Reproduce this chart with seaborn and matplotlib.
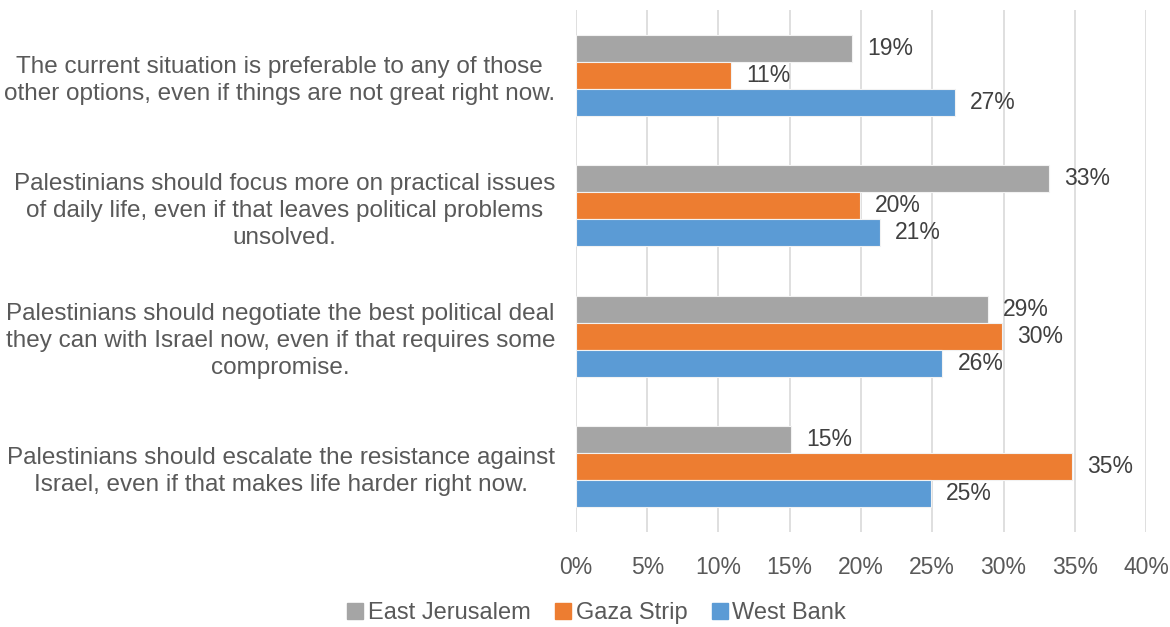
import numpy as np
import pandas as pd
import matplotlib
matplotlib.use('Agg')
import matplotlib.pyplot as plt
import seaborn as sns
from matplotlib.lines import Line2D

# data (shares, %)
statements = [
    'The current situation is preferable to any of those\nother options, even if things are not great right now.',
    'Palestinians should focus more on practical issues\nof daily life, even if that leaves political problems\nunsolved.',
    'Palestinians should negotiate the best political deal\nthey can with Israel now, even if that requires some\ncompromise.',
    'Palestinians should escalate the resistance against\nIsrael, even if that makes life harder right now.',
]
regions = ['East Jerusalem', 'Gaza Strip', 'West Bank']
east_jerusalem = [19.4, 33.2, 28.9, 15.1]
gaza_strip     = [10.9, 19.9, 29.9, 34.8]
west_bank      = [26.6, 21.3, 25.7, 24.9]
x_ticks = [0, 5, 10, 15, 20, 25, 30, 35, 40]

COLORS = ['#A5A5A5', '#ED7D31', '#5B9BD5']
TEXT   = '#595959'

df = pd.DataFrame({
    'statement': statements * 3,
    'region': np.repeat(regions, len(statements)),
    'share': east_jerusalem + gaza_strip + west_bank,
})

sns.set_theme(style='white')
plt.rcParams['font.family'] = ['Liberation Sans', 'DejaVu Sans']

fig = plt.figure(figsize=(11.7, 6.27), dpi=100)
ax = fig.add_axes([0.4923, 0.1515, 0.4872, 0.8325])

sns.barplot(data=df, y='statement', x='share', hue='region', order=statements,
            hue_order=regions, palette=COLORS, saturation=1, orient='h',
            width=0.62, edgecolor='#F2F2F2', linewidth=0.8, ax=ax, legend=False)

for cont in ax.containers:
    labels = ['{:.0f}%'.format(b.get_width()) for b in cont]
    ax.bar_label(cont, labels=labels, padding=11, fontsize=16.5, color='#404040')

ax.set_xlim(0, 40)
ax.set_ylim(3.5, -0.5)
ax.set_xticks(x_ticks)
ax.set_xticklabels(['{}%'.format(t) for t in x_ticks])
ax.set_xlabel('')
ax.set_ylabel('')
ax.grid(axis='x', color='#D9D9D9', linewidth=1.2)
ax.set_axisbelow(True)
sns.despine(ax=ax, left=True, bottom=True)
ax.tick_params(axis='x', length=0, pad=17, labelsize=16.5, labelcolor=TEXT)
ax.tick_params(axis='y', length=0, pad=15, labelsize=17.5, labelcolor=TEXT)
for lbl in ax.get_yticklabels():
    lbl.set_multialignment('center')
    lbl.set_linespacing(1.3)

handles = [Line2D([0], [0], marker='s', color='w', markerfacecolor=c,
                  markeredgecolor=c, markersize=11, label=r)
           for c, r in zip(COLORS, regions)]
fig.legend(handles=handles, loc='center', bbox_to_anchor=(0.51, 0.022), ncol=3,
           frameon=False, fontsize=17, labelcolor=TEXT, handlelength=0.7,
           handletextpad=0.2, columnspacing=1.0)

fig.savefig('out.png', dpi=100)
